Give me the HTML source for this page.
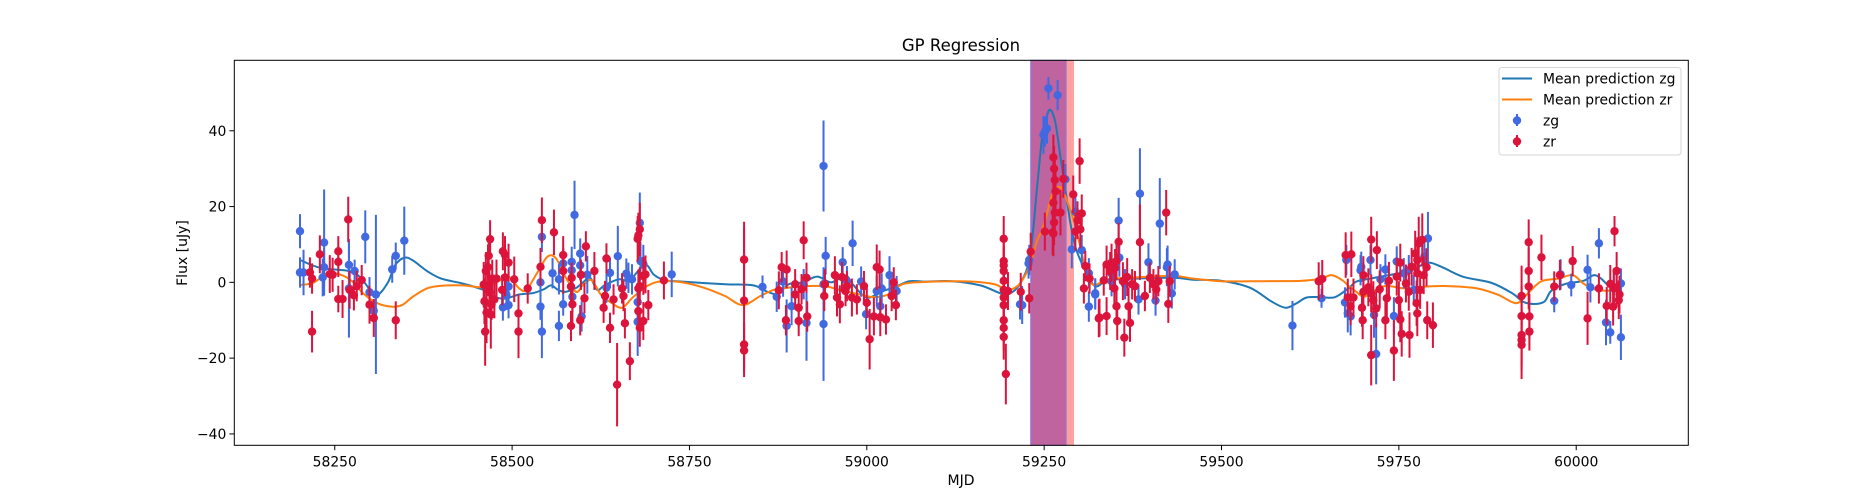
<!DOCTYPE html>
<html><head><meta charset="utf-8"><title>GP Regression</title>
<style>html,body{margin:0;padding:0;background:#fff;}svg{display:block;font-family:"DejaVu Sans","Liberation Sans",sans-serif;}</style>
</head><body>
<svg id="chart" width="1875" height="500" viewBox="0 0 1875 500" xmlns="http://www.w3.org/2000/svg">
<rect x="0" y="0" width="1875" height="500" fill="#fff"/>
<g id="spans"></g>
<g id="curves"></g>
<g id="pts"></g>
<rect x="234.3" y="60.3" width="1454" height="385" fill="none" stroke="#000" stroke-width="1"/>
<g id="axes"></g>
<text x="961" y="51" font-size="16.5" text-anchor="middle">GP Regression</text>
<text x="961" y="485" font-size="14" text-anchor="middle">MJD</text>
<text x="0" y="0" font-size="14" text-anchor="middle" transform="translate(187,253) rotate(-90)">Flux [uJy]</text>
<g id="legend">
<rect x="1499" y="67.5" width="182" height="87.5" rx="3" fill="#fff" fill-opacity="0.8" stroke="#d6d6d6"/>
<line x1="1502" y1="78.5" x2="1532" y2="78.5" stroke="#1f77b4" stroke-width="2"/>
<text x="1543" y="83.5" font-size="13.9">Mean prediction zg</text>
<line x1="1502" y1="99.5" x2="1532" y2="99.5" stroke="#ff7f0e" stroke-width="2"/>
<text x="1543" y="104.5" font-size="13.9">Mean prediction zr</text>
<line x1="1517" y1="114" x2="1517" y2="126" stroke="#4169e1" stroke-width="2"/>
<circle cx="1517" cy="120.5" r="4.2" fill="#4169e1"/>
<text x="1543" y="125.5" font-size="13.9">zg</text>
<line x1="1517" y1="135" x2="1517" y2="147" stroke="#dc143c" stroke-width="2"/>
<circle cx="1517" cy="141.5" r="4.2" fill="#dc143c"/>
<text x="1543" y="146.5" font-size="13.9">zr</text>
</g>
</svg>
<script>
const xTicks=[58250,58500,58750,59000,59250,59500,59750,60000];
const yTicks=[-40,-20,0,20,40];
const spanZr=[59231,59292];
const spanZg=[59231,59281];
// [mjd, flux, err]
const zgData=[[58201,13.5,4.5],[58201,2.6,4],[58206,2.6,6],[58235,10.5,14],[58235,4,5],[58233,1.3,5],[58270,-1.6,13],[58270,4.6,6],[58278,3,3],[58293,12,7],[58299,-2.6,4],[58305,-7.5,3],[58308,-3.2,21],[58331,3.4,3.5],[58336,7,3.5],[58348,11,9],
[58487,-6.6,3.5],[58495,-6,3.5],[58495,-1.1,4],[58492,-3.3,4],[58542,12,4],[58540,0,4],[58540,-6.4,3.5],[58542,-13,7],[58557,2.4,4],[58566,-11.5,4],[58566,0.8,4],[58572,5,4],[58572,-5.8,3],[58588,17.8,9],[58584,5.4,4],[58584,3.2,4],[58585,-3.8,4],[58596,7.6,4],[58596,4.5,4],[58598,-9,4],[58606,2,5],
[58649,6.9,8],[58638,2.5,4],[58633,-1.4,4],[58661,2.3,4],[58669,0.8,4],[58664,1.2,4],[58680,15.7,8],[58681,5.6,5],[58685,4.9,5],[58677,-5.2,5],[58677,-10.4,9],[58725,2.1,6],[58853,-1.2,3],[58873,-3.8,4],[58882,0.2,4],[58887,-11.5,7],[58894,-6.3,5],[58911,-0.5,4],[58915,-10.7,10],[58939,30.7,12],[58939,-0.5,4],[58939,-11,15],[58942,7,5],[58966,5.3,4],[58980,10.3,6],[58972,0.3,4],[58992,0.2,4],[58999,-8.4,4],[59014,-2.3,4],[59021,-1.6,4],[59019,-6.3,5],[59032,1.9,5],[59042,-2.3,4],
[59216,-5.8,4],[59229,5.9,4],[59228,5,4],[59219,-6,5],[59256,51.2,3],[59269,49.4,4],[59254,40.6,4],[59249,38.9,5],[59251,39.8,4],[59280,27.2,4],[59294,18.6,5],[59289,8.7,5],[59303,8.5,4],[59313,2.4,4],[59313,-6.4,4],[59322,-2.9,4],[59322,-3.2,4],[59355,16.3,6],[59356,6.5,5],[59345,2.3,5],[59345,0.3,4],[59364,-0.5,4],[59383,-4.5,4],[59385,23.4,12],[59397,5.3,5],[59407,-4.8,4],[59413,15.5,12],[59423,4,5],[59424,4.7,5],[59430,-2.9,4],[59434,2.1,4],
[59600,-11.4,6.5],[59641,-4.2,2.5],[59676,5.9,4],[59674,-5.3,4],[59678,-8.2,5],[59682,-9,5],[59696,3.2,4],[59697,4.1,4],[59710,5.9,4],[59718,-18.9,8],[59715,-8.6,6],[59724,0.8,4],[59731,3.4,4],[59743,-8.9,5],[59747,5.5,4],[59757,2.4,4],[59764,3.2,4],[59771,-2,4],[59786,6.8,5],[59791,11.6,7],[59969,-4.9,3],[59978,2.1,4],[59993,-0.7,3],[60016,3.3,4],[60020,-1.3,4],[60032,10.3,4],[60042,-10.6,6],[60048,-13.2,3],[60053,-1.6,4],[60063,-0.3,4],[60063,-14.5,6]];
const zrData=[[58215,2.6,4],[58218,1,4],[58218,-13,5.5],[58229,7.4,5],[58243,2.2,5],[58247,2,4.5],[58255,8.2,4],[58255,5.4,4],[58255,-4.4,3.5],[58261,-4.4,5],[58269,16.6,6],[58271,-2,5],[58277,-3.4,4],[58281,-1,4],[58288,0.6,4],[58299,-5.9,5],[58305,-9.4,5],[58336,-10,5],
[58460,-0.6,6],[58461,-5,6],[58462,-13,9],[58463,3,5],[58464,-8,8],[58466,4,6],[58467,7,5],[58468,-2.6,6],[58469,11.4,5],[58470,-8.5,9],[58471,-5.9,4],[58472,1,5],[58475,-4.5,5],[58478,1,5],[58487,8.2,5],[58490,7.2,5],[58495,5.2,5],[58486,-2,4],[58490,1.3,5],[58503,0.8,6],[58509,-8.2,5],[58509,-13,7],[58522,-1.6,4],[58540,4.1,5],[58542,16.4,6],[58559,13.2,6],[58572,3,6],[58572,7.2,5],[58584,1.2,4],[58583,-1.1,4],[58583,-11.5,4],[58585,-5.8,5],[58596,-10,4],[58597,2,4],[58602,-4.2,4],[58604,9.5,4],[58616,3,5],
[58633,6.3,4],[58631,-3.6,4],[58629,-6.7,4],[58638,-12,4],[58643,-4.5,4],[58655,-1.6,4],[58657,-3.6,4],[58659,-10.8,4],[58666,-20.8,5],[58648,-27,11],[58680,14,7],[58678,12.4,6],[58677,11.5,6],[58685,1.7,5],[58688,2.1,5],[58680,-1,5],[58678,-1.6,5],[58678,-7.6,5],[58685,-10.2,5],[58680,-12,5],[58692,-6,4],[58714,0.5,5],
[58827,6,10],[58827,-4.8,19],[58827,-16.4,6],[58827,-18,7],[58876,-2.1,5],[58880,4,4],[58887,3.4,5],[58886,-10,4],[58899,-0.5,4],[58899,-3.2,4],[58904,-6.7,5],[58904,-10.2,4],[58908,-1.8,4],[58911,11.1,5],[58915,1.2,4],[58916,-9,4],[58941,-0.5,4],[58940,-3.6,4],[58955,1.9,5],[58958,-4,5],[58962,-5.8,5],[58965,1.4,4],[58972,-1,4],[58970,-2.3,4],[58979,-4,5],[58986,-4.5,4],[58996,-1,4],[59000,-5.4,4],[59004,-15,8],[59010,-9,5],[59014,4,6],[59018,3.4,5],[59019,-9.2,5],[59027,-9.8,4],[59035,-3.6,4],[59038,0,4],[59041,-6,4],
[59193,11.5,6],[59193,5.6,5],[59193,4.5,5],[59193,3,6],[59193,0.4,6],[59193,-2,5],[59193,-4,5],[59193,-6,6],[59193,-10,6],[59193,-12,6],[59193,-14.4,6],[59196,-24.2,8],[59199,-2.3,5],[59217,-2.5,5],[59229,-4.2,4],[59231,8.1,5],
[59251,13.4,5],[59263,33,6],[59264,30,6],[59265,27,6],[59266,24,6],[59263,21,6],[59265,18.4,6],[59264,15.8,6],[59262,13.2,6],[59273,18.4,6],[59263,12.9,6],[59277,27.3,5],[59300,32,6],[59291,23.2,5],[59297,16.4,5],[59303,18.2,5],[59301,14,5],[59294,13.4,5],[59308,4.3,4],[59314,1,4],[59306,-1.6,4],[59327,-9.5,5],
[59328,-9.3,5],[59338,-8.9,5],[59334,0.5,4],[59355,10.7,5],[59338,4.7,5],[59345,5.2,5],[59352,5.6,5],[59350,3.8,5],[59343,3,5],[59349,-1.6,4],[59352,-6.3,5],[59353,-10.2,5],[59363,-14.6,5],[59371,-10.7,5],[59369,-6.3,5],[59361,0.3,5],[59367,1.4,5],[59374,-0.5,4],[59378,-1,4],[59385,10.6,10],[59392,-3.6,4],[59399,1.2,4],[59404,-0.5,4],[59411,0.3,4],[59408,-1.9,4],[59422,18.4,6],[59427,0.3,4],[59425,-5.7,5],
[59637,0.3,5],[59642,0.9,5],[59675,7.2,6],[59683,7.4,6],[59678,-4,5],[59686,-4,5],[59682,-6.3,5],[59699,-10,5],[59698,-6.7,5],[59700,-2.5,5],[59700,1.9,5],[59711,11.3,6],[59719,8.5,5],[59711,-19.2,8],[59707,-1.3,5],[59711,-2.9,5],[59714,-4.7,5],[59718,-6.9,5],[59723,-1.8,5],[59731,-10,5],[59733,-4.2,5],[59736,0.4,5],[59743,-18,8],[59747,1.5,5],[59752,5.2,5],[59750,-4.7,5],[59752,-9.8,6],[59754,-13.6,6],[59760,-0.3,5],[59765,-13.9,6],[59764,-2.5,5],[59768,4.1,5],[59773,7.6,6],[59776,5.9,6],[59775,-5.5,6],[59776,-8.2,6],[59778,10.3,7],[59783,11.2,7],[59785,1.9,5],[59789,4,5],[59790,-10,5],[59798,-11.3,6],[59780,-2,5],[59776,2.4,5],
[59923,-3.6,8],[59923,-8.9,8],[59923,-13.9,8],[59923,-15.2,8],[59923,-16.5,9],[59933,10.6,6],[59933,3,6],[59933,-1.1,6],[59934,-9,6],[59934,-13,5],[59951,6.6,6],[59969,-1.1,4],[59977,1.9,4],[59995,5.6,4],[60016,-9.5,7],[60032,-1.6,4],[60054,13.5,4],[60057,3,5],[60053,-1.3,5],[60048,-0.4,5],[60043,-6.2,5],[60052,-6.4,5],[60060,-4.7,5],[60061,-3.2,5],[60057,-1.6,5]];
// GP mean prediction knots
const zgMeanX=[58201,58230,58270,58285,58300,58310,58325,58335,58348,58360,58380,58400,58430,58460,58475,58490,58510,58530,58545,58555,58565,58575,58590,58600,58610,58620,58630,58650,58665,58680,58690,58700,58715,58740,58800,58840,58860,58875,58890,58910,58930,58950,58970,58980,59000,59020,59040,59060,59080,59120,59160,59190,59202,59216,59230,59240,59247,59254,59259,59266,59273,59280,59287,59294,59303,59315,59324,59340,59380,59432,59460,59500,59540,59570,59590,59605,59620,59640,59660,59680,59690,59710,59730,59750,59770,59790,59810,59840,59880,59910,59925,59940,59955,59965,59985,60010,60025,60035,60045,60060];
const zgMeanY=[5.9,3.8,3,1.5,-2,-3.4,0,4.5,6.5,5.8,3,1,-0.3,-2,-3.8,-4.3,-3.2,-2.8,-1.8,-0.8,-2,-2.5,-1.5,0,1.2,-2,-0.8,0.8,0.5,3.5,4.5,2,0.6,0.2,-0.5,-0.8,-2.5,-3,-0.5,0,1.5,0,1.8,-0.5,-4,-2.5,-1.2,0.3,0.2,0.3,-0.8,-3,-2.9,-0.3,6.8,25,38,44,45.5,42,33,24.4,15.6,9.4,5,0.6,-1.1,0.5,1,1.2,0.7,0.4,-1.4,-5,-6.7,-5.6,-4,-3.9,-3.9,-1.4,0.2,1,1.7,2.4,3.3,5.2,4.1,1.5,-0.1,-2.9,-5.1,-5.7,-5.1,-2.2,-0.4,0.4,1.9,1,-0.7,-1.6];
const zrMeanX=[58201,58220,58240,58260,58275,58290,58310,58330,58345,58360,58380,58400,58430,58460,58480,58495,58510,58520,58535,58550,58562,58575,58590,58600,58612,58625,58640,58655,58670,58690,58710,58740,58770,58800,58825,58850,58870,58890,58910,58940,58960,58990,59010,59030,59050,59080,59120,59150,59180,59195,59202,59216,59230,59240,59247,59254,59262,59270,59277,59287,59294,59301,59310,59320,59340,59380,59432,59460,59500,59540,59611,59640,59655,59670,59680,59690,59700,59710,59730,59760,59790,59820,59860,59890,59915,59930,59950,59975,59995,60010,60025,60045,60060];
const zrMeanY=[-0.7,-0.1,2.4,1.9,0.2,-2.9,-5.5,-6.4,-6,-3.8,-1.6,-0.9,-0.8,-1.3,0.2,1.5,-1.6,-2,2.4,6.8,6.3,1.5,-2.5,-0.7,0.6,-3.2,-5.4,-6.7,-4,-1,0.3,0,-1.4,-3.6,-6,-3.6,-1.9,-1.4,-1,-1,-1.9,-3.2,-3.9,-3.2,-0.5,0.1,0.3,0.2,-0.5,-1.9,-2,-0.3,4.6,11,13.8,18.2,23.5,25.2,24,19,14.7,9.4,2.4,-0.7,0.8,1.3,1.7,1,0.3,0.3,0.4,1,1.9,0.6,-1.1,-2.5,-3.8,-2.9,-1,-1.6,-1.1,-1,-1.6,-3.3,-5.5,-3.3,0.2,1,1.9,-0.3,-1.8,-2.2,-1.6];

const NS='http://www.w3.org/2000/svg';
const X0=234.3,X1=1688.3,Y0=60.3,Y1=445.3;
const xMin=58108.4,xMax=60158,yMin=-43,yMax=58.6;
function sx(v){return X0+(v-xMin)/(xMax-xMin)*(X1-X0);}
function sy(v){return Y1-(v-yMin)/(yMax-yMin)*(Y1-Y0);}
function mk(tag,attrs,parent){const e=document.createElementNS(NS,tag);for(const k in attrs)e.setAttribute(k,attrs[k]);parent.appendChild(e);return e;}

const sp=document.getElementById('spans');
let r1=mk('rect',{x:sx(spanZr[0]),y:Y0,width:sx(spanZr[1])-sx(spanZr[0]),height:Y1-Y0,fill:'#ffa0a0'},sp);


let r2=mk('rect',{x:sx(spanZg[0]),y:Y0,width:sx(spanZg[1])-sx(spanZg[0]),height:Y1-Y0,fill:'#c0649f',stroke:'#8a7ae6','stroke-width':1},sp);



function pathFor(xs,ys){
  const p=xs.map((x,i)=>[sx(x),sy(ys[i])]);
  let d='M'+p[0][0].toFixed(2)+','+p[0][1].toFixed(2);
  for(let i=0;i<p.length-1;i++){
    const a=p[Math.max(0,i-1)],b=p[i],c=p[i+1],e=p[Math.min(p.length-1,i+2)];
    const c1=[b[0]+(c[0]-a[0])/6,b[1]+(c[1]-a[1])/6],c2=[c[0]-(e[0]-b[0])/6,c[1]-(e[1]-b[1])/6];
    d+=' C'+c1[0].toFixed(2)+','+c1[1].toFixed(2)+' '+c2[0].toFixed(2)+','+c2[1].toFixed(2)+' '+c[0].toFixed(2)+','+c[1].toFixed(2);
  }
  return d;
}
const cg=document.getElementById('curves');
let lg=mk('path',{d:pathFor(zgMeanX,zgMeanY),fill:'none',stroke:'#1f77b4','stroke-width':2},cg);


let lr=mk('path',{d:pathFor(zrMeanX,zrMeanY),fill:'none',stroke:'#ff7f0e','stroke-width':2},cg);



const pg=document.getElementById('pts');
function drawSeries(data,color,name){
  const g=mk('g',{},pg);
  
  
  data.forEach(d=>{
    const x=sx(d[0]);
    const l=mk('line',{x1:x,x2:x,y1:sy(d[1]+d[2]),y2:sy(d[1]-d[2]),stroke:color,'stroke-width':2},g);
    
    
  });
  data.forEach(d=>{
    const c=mk('circle',{cx:sx(d[0]),cy:sy(d[1]),r:4.2,fill:color},g);
    
    
  });
}
drawSeries(zgData,'#4169e1','zg');
drawSeries(zrData,'#dc143c','zr');

const ax=document.getElementById('axes');
xTicks.forEach(t=>{
  const x=sx(t);
  const l=mk('line',{x1:x,x2:x,y1:Y1,y2:Y1+4.9,stroke:'#000','stroke-width':1},ax);
  
  
  const tx=mk('text',{x:x,y:Y1+21,'font-size':13.9,'text-anchor':'middle'},ax);
  tx.textContent=String(t);
  
  
});
yTicks.forEach(t=>{
  const y=sy(t);
  const l=mk('line',{x1:X0-4.9,x2:X0,y1:y,y2:y,stroke:'#000','stroke-width':1},ax);
  
  
  const tx=mk('text',{x:X0-8,y:y+5,'font-size':13.9,'text-anchor':'end'},ax);
  tx.textContent=(t<0?'\u2212'+Math.abs(t):String(t));
  
  
});
</script>
</body></html>
